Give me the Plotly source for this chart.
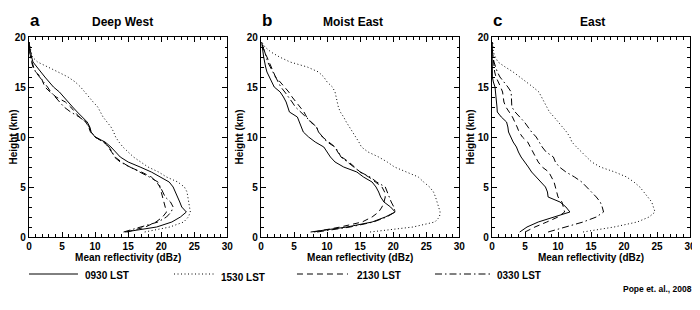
import plotly.graph_objects as go

# ---------------- data ----------------
heights = [0.5, 1.0, 1.5, 2.0, 2.5, 3.0, 3.5, 4.0, 4.5, 5.0, 5.5, 6.0, 6.5, 7.0, 7.5,
           8.0, 8.5, 9.0, 9.5, 10.0, 10.5, 11.0, 11.5, 12.0, 12.5, 13.0, 13.5, 14.0,
           14.5, 15.0, 15.5, 16.0, 16.5, 17.0, 17.5, 18.0, 18.5, 19.0, 19.5]

series_names = ["0930 LST", "1530 LST", "2130 LST", "0330 LST"]
panel_letters = ["a", "b", "c"]
panel_titles = ["Deep West", "Moist East", "East"]

# Panel a: Deep West
a_0930 = [14.5, 19.3, 21.6, 22.9, 23.8, 23.1, 22.8, 22.5, 22.2, 21.8, 21.2, 19.8, 18.5, 16.8, 15.0,
          13.8, 13.1, 12.4, 11.5, 10.0, 9.4, 9.2, 8.8, 8.0, 7.3, 6.6, 5.9, 5.3,
          4.6, 3.7, 3.0, 2.4, 1.8, 1.2, 0.6, 0.4, 0.2, 0.1, 0.0]
a_1530 = [17.5, 21.3, 23.4, 24.1, 24.4, 24.3, 24.1, 24.0, 23.9, 23.5, 22.5, 20.8, 19.6, 18.0, 16.8,
          15.8, 15.0, 14.2, 13.6, 13.1, 12.8, 12.4, 11.8, 11.2, 10.8, 10.4, 9.7, 9.1,
          8.4, 7.8, 7.0, 5.9, 4.4, 2.8, 1.3, 0.5, 0.3, 0.1, 0.0]
a_2130 = [14.8, 17.6, 19.2, 20.2, 20.8, 20.6, 20.4, 20.2, 20.0, 19.8, 19.3, 18.5, 17.0, 15.2, 14.0,
          13.0, 12.5, 12.0, 11.4, 10.0, 9.3, 9.0, 8.6, 7.6, 7.0, 6.3, 5.5, 4.1,
          3.2, 2.4, 2.1, 1.8, 1.0, 0.6, 0.4, 0.2, 0.1, 0.05, 0.0]
a_0330 = [14.3, 17.0, 19.5, 20.8, 21.5, 21.8, 21.4, 20.6, 20.2, 19.9, 19.5, 18.2, 16.8, 15.3, 13.8,
          12.9, 12.6, 12.1, 11.2, 10.0, 9.4, 9.1, 8.6, 7.6, 6.3, 5.3, 4.6, 4.0,
          3.3, 2.8, 2.2, 1.5, 1.0, 0.7, 0.4, 0.2, 0.1, 0.05, 0.0]

# Panel b: Moist East
b_0930 = [7.5, 13.0, 16.8, 18.8, 20.3, 19.6, 18.6, 18.1, 17.8, 17.4, 16.8, 15.5, 14.5, 12.5, 11.2,
          10.5, 10.0, 9.5, 8.2, 7.2, 6.4, 6.1, 5.8, 5.5, 4.3, 4.1, 3.8, 3.4,
          2.9, 2.0, 1.6, 1.2, 0.9, 0.7, 0.5, 0.4, 0.3, 0.2, 0.1]
b_1530 = [16.5, 23.0, 26.3, 27.0, 27.1, 26.9, 26.6, 26.4, 26.1, 25.5, 24.6, 23.8, 22.0, 20.2, 19.1,
          17.8, 16.2, 15.2, 14.8, 14.3, 13.8, 13.3, 12.9, 12.5, 12.0, 11.7, 11.5, 11.3,
          11.2, 10.8, 10.0, 9.5, 8.7, 7.0, 4.4, 2.8, 1.5, 0.6, 0.1]
b_2130 = [8.0, 12.0, 15.3, 16.8, 17.8, 18.3, 18.6, 18.8, 18.7, 18.3, 17.3, 16.3, 15.0, 14.2, 13.3,
          12.2, 11.6, 11.2, 10.2, 9.3, 8.7, 8.4, 7.5, 6.9, 6.5, 5.9, 5.2, 4.7,
          4.2, 3.6, 2.9, 2.2, 1.9, 1.6, 1.2, 0.9, 0.5, 0.3, 0.1]
b_0330 = [8.5, 13.5, 17.0, 19.0, 20.3, 20.1, 19.7, 19.4, 19.1, 18.8, 17.5, 16.5, 15.0, 14.0, 13.0,
          12.1, 11.7, 11.2, 10.0, 9.4, 8.7, 8.4, 7.6, 6.9, 6.0, 5.2, 4.7, 4.2,
          3.6, 3.0, 2.6, 2.3, 1.9, 1.4, 1.0, 0.8, 0.6, 0.3, 0.1]

# Panel c: East
c_0930 = [4.2, 5.3, 7.0, 9.3, 11.8, 11.2, 10.3, 8.5, 8.4, 8.1, 7.4, 6.7, 6.0, 5.5, 4.9,
          4.4, 4.0, 3.7, 3.2, 2.9, 2.5, 2.4, 2.2, 1.4, 0.8, 0.75, 0.7, 0.65,
          0.6, 0.45, 0.2, 0.05, 0.05, 0.05, 0.05, 0.0, 0.0, 0.0, 0.0]
c_1530 = [13.8, 18.5, 22.0, 23.8, 24.7, 24.5, 24.2, 23.6, 23.0, 22.4, 21.5, 20.4, 18.6, 16.4, 15.1,
          14.3, 13.6, 12.8, 12.1, 11.8, 11.3, 10.7, 10.0, 9.4, 8.7, 8.3, 7.9, 7.4,
          7.1, 6.2, 5.2, 4.2, 3.2, 2.0, 0.9, 0.5, 0.2, 0.15, 0.1]
c_2130 = [5.0, 6.5, 8.3, 10.0, 11.0, 10.8, 10.6, 10.0, 9.8, 9.7, 9.4, 9.0, 8.6, 7.6, 7.0,
          6.6, 6.2, 5.8, 5.4, 4.6, 4.1, 3.8, 3.5, 3.1, 2.6, 2.1, 1.8, 1.7,
          1.6, 1.3, 0.9, 0.6, 0.4, 0.3, 0.2, 0.1, 0.05, 0.0, 0.0]
c_0330 = [8.5, 11.0, 13.8, 15.8, 16.9, 16.7, 16.4, 15.8, 15.1, 14.3, 13.6, 12.5, 11.2, 10.2, 9.6,
          9.3, 8.2, 7.6, 7.2, 6.7, 6.0, 5.5, 4.9, 4.2, 3.5, 3.0, 3.0, 3.0,
          2.9, 2.4, 1.8, 1.2, 0.8, 0.5, 0.3, 0.15, 0.05, 0.0, 0.0]

x_ticks = [0, 5, 10, 15, 20, 25, 30]
y_ticks = [0, 5, 10, 15, 20]

panels = [
    [a_0930, a_1530, a_2130, a_0330],
    [b_0930, b_1530, b_2130, b_0330],
    [c_0930, c_1530, c_2130, c_0330],
]

# ---------------- styling ----------------
FONT = "Liberation Sans, Arial, sans-serif"
dash_styles = ["solid", "1px,2.5px", "6px,4px", "7px,3px,1.5px,3px"]
domains = [[0.0, 0.3001], [0.351, 0.651], [0.7005, 1.0]]

fig = go.Figure()

for p, series in enumerate(panels):
    xa = "x" if p == 0 else f"x{p+1}"
    ya = "y" if p == 0 else f"y{p+1}"
    for s, vals in enumerate(series):
        fig.add_trace(go.Scatter(
            x=vals, y=heights, mode="lines",
            line=dict(color="black", width=1, dash=dash_styles[s]),
            name=series_names[s], showlegend=False,
            xaxis=xa, yaxis=ya,
        ))

# the page body adds an 8px offset, so the figure is 8px smaller than the window
layout = dict(
    width=692, height=302,
    margin=dict(l=21, r=10, t=29, b=73, autoexpand=False),
    paper_bgcolor="white", plot_bgcolor="white",
    font=dict(family=FONT, color="black", size=10),
    showlegend=False,
)

for p in range(3):
    xk = "xaxis" if p == 0 else f"xaxis{p+1}"
    yk = "yaxis" if p == 0 else f"yaxis{p+1}"
    anchor_y = "y" if p == 0 else f"y{p+1}"
    anchor_x = "x" if p == 0 else f"x{p+1}"
    common = dict(
        showline=True, linecolor="black", linewidth=1.3, mirror="allticks",
        ticks="inside", ticklen=5, tickwidth=1.2, tickcolor="black",
        showgrid=False, zeroline=False, automargin=False,
        tickfont=dict(family=FONT, size=10, weight="bold", color="black"),
    )
    layout[xk] = dict(
        domain=domains[p], anchor=anchor_y, range=[0, 30],
        tickvals=x_ticks, ticktext=[str(v) for v in x_ticks],
        minor=dict(dtick=1, ticks="inside", ticklen=2.5, tickcolor="black", tickwidth=1),
        title=dict(text="Mean reflectivity (dBz)", standoff=1,
                   font=dict(family=FONT, size=10, weight="bold")),
        **common,
    )
    layout[yk] = dict(
        domain=[0, 1], anchor=anchor_x, range=[0, 20],
        tickvals=y_ticks, ticktext=[str(v) for v in y_ticks],
        minor=dict(dtick=1, ticks="inside", ticklen=2.5, tickcolor="black", tickwidth=1),
        title=dict(text="Height (km)", standoff=1,
                   font=dict(family=FONT, size=10, weight="bold")),
        **common,
    )

fig.update_layout(**layout)

title_centers = [0.142, 0.490, 0.852]
annotations = []
for p in range(3):
    annotations.append(dict(
        text=panel_letters[p], xref="paper", yref="paper",
        x=domains[p][0] - 0.002, y=1.085, xanchor="left", yanchor="middle",
        showarrow=False, font=dict(family=FONT, size=17, weight="bold"),
    ))
    annotations.append(dict(
        text=panel_titles[p], xref="paper", yref="paper",
        x=title_centers[p], y=1.073, xanchor="center", yanchor="middle",
        showarrow=False, font=dict(family=FONT, size=12, weight="bold"),
    ))

# manual legend (sample line + label)
legend_line_x = [(0.0, 0.0741), (0.2194, 0.2799), (0.4054, 0.4826), (0.6142, 0.699)]
legend_text_x = [0.0817, 0.2874, 0.4932, 0.705]
legend_text_y = [-0.19, -0.20, -0.19, -0.19]
legend_line_y = -0.185
shapes = []
for s, name in enumerate(series_names):
    x0, x1 = legend_line_x[s]
    shapes.append(dict(
        type="line", xref="paper", yref="paper", x0=x0, x1=x1,
        y0=legend_line_y, y1=legend_line_y,
        line=dict(color="black", width=1, dash=dash_styles[s]),
    ))
    annotations.append(dict(
        text=name, xref="paper", yref="paper",
        x=legend_text_x[s], y=legend_text_y[s], xanchor="left", yanchor="middle",
        showarrow=False, font=dict(family=FONT, size=10, weight="bold"),
    ))

annotations.append(dict(
    text="Pope et. al., 2008", xref="paper", yref="paper",
    x=1.006, y=-0.26, xanchor="right", yanchor="middle",
    showarrow=False, font=dict(family=FONT, size=8.5, weight="bold"),
))
fig.update_layout(annotations=annotations, shapes=shapes)

fig.write_html("out.html")
